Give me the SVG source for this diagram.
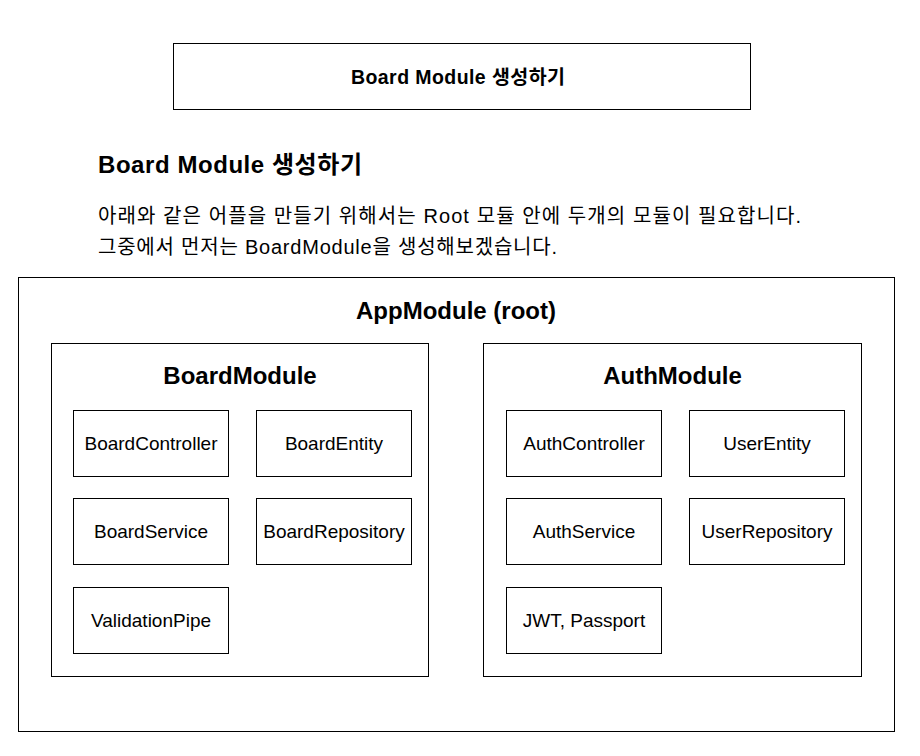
<svg xmlns="http://www.w3.org/2000/svg" width="920" height="756" viewBox="0 0 920 756">
  <style>
    text { font-family: "Liberation Sans", "Noto Sans CJK KR", Arial, sans-serif; fill: #000; }
    .box { fill: #fff; stroke: #000; stroke-width: 1; }
    .title { font-weight: bold; font-size: 24px; text-anchor: middle; }
    .item { font-size: 19px; text-anchor: middle; }
    .body { font-size: 20px; }
  </style>
  <rect x="0" y="0" width="920" height="756" fill="#fff"/>

  <!-- banner -->
  <g id="banner">
    <rect class="box" x="173.5" y="43.5" width="577" height="66"/>
    <text x="351" y="84" font-size="19.5" font-weight="bold" textLength="214">Board Module 생성하기</text>
  </g>

  <!-- heading and description -->
  <g id="intro">
    <text x="98" y="173" font-size="24" font-weight="bold" textLength="264">Board Module 생성하기</text>
    <text class="body" x="98" y="223" textLength="703">아래와 같은 어플을 만들기 위해서는 Root 모듈 안에 두개의 모듈이 필요합니다.</text>
    <text class="body" x="98" y="254" textLength="459">그중에서 먼저는 BoardModule을 생성해보겠습니다.</text>
  </g>

  <!-- root module -->
  <g id="app-module">
    <rect class="box" x="18.5" y="277.5" width="876" height="454"/>
    <text class="title" x="456" y="319">AppModule (root)</text>
  </g>

  <!-- board module -->
  <g id="board-module">
    <rect class="box" x="51.5" y="343.5" width="377" height="333"/>
    <text class="title" x="240" y="384">BoardModule</text>
  </g>
  <g id="board-controller">
    <rect class="box" x="73.5" y="410.5" width="155" height="66"/>
    <text class="item" x="151" y="450">BoardController</text>
  </g>
  <g id="board-entity">
    <rect class="box" x="256.5" y="410.5" width="155" height="66"/>
    <text class="item" x="334" y="450">BoardEntity</text>
  </g>
  <g id="board-service">
    <rect class="box" x="73.5" y="498.5" width="155" height="66"/>
    <text class="item" x="151" y="538">BoardService</text>
  </g>
  <g id="board-repository">
    <rect class="box" x="256.5" y="498.5" width="155" height="66"/>
    <text class="item" x="334" y="538">BoardRepository</text>
  </g>
  <g id="validation-pipe">
    <rect class="box" x="73.5" y="587.5" width="155" height="66"/>
    <text class="item" x="151" y="627">ValidationPipe</text>
  </g>

  <!-- auth module -->
  <g id="auth-module">
    <rect class="box" x="483.5" y="343.5" width="378" height="333"/>
    <text class="title" x="672.5" y="384">AuthModule</text>
  </g>
  <g id="auth-controller">
    <rect class="box" x="506.5" y="410.5" width="155" height="66"/>
    <text class="item" x="584" y="450">AuthController</text>
  </g>
  <g id="user-entity">
    <rect class="box" x="689.5" y="410.5" width="155" height="66"/>
    <text class="item" x="767" y="450">UserEntity</text>
  </g>
  <g id="auth-service">
    <rect class="box" x="506.5" y="498.5" width="155" height="66"/>
    <text class="item" x="584" y="538">AuthService</text>
  </g>
  <g id="user-repository">
    <rect class="box" x="689.5" y="498.5" width="155" height="66"/>
    <text class="item" x="767" y="538">UserRepository</text>
  </g>
  <g id="jwt-passport">
    <rect class="box" x="506.5" y="587.5" width="155" height="66"/>
    <text class="item" x="584" y="627">JWT, Passport</text>
  </g>

  <!-- no connectors in this layout -->
  <g id="connectors"/>
</svg>
